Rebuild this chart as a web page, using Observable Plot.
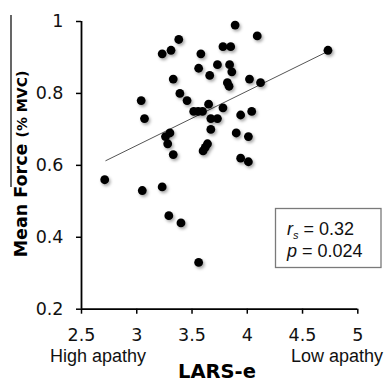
<!DOCTYPE html>
<html><head><meta charset="utf-8">
<script src="https://cdn.jsdelivr.net/npm/d3@7"></script>
<script src="https://cdn.jsdelivr.net/npm/@observablehq/plot@0.6"></script>
<style>html,body{margin:0;padding:0;background:#fff} svg{display:block}</style>
</head><body><div id="chart"></div>
<script>
// Data
const larsE = [3.38, 3.31, 3.23, 3.33, 3.39, 3.455, 3.04, 3.89, 4.09, 3.78, 3.85, 3.58, 3.73, 3.84, 3.56, 3.86, 3.66, 4.02, 4.12, 3.82, 3.835, 3.65, 3.78, 3.515, 3.555, 3.595, 4.04, 3.94, 3.67, 3.73, 3.67, 3.90, 4.01, 3.64, 3.62, 3.60, 3.94, 4.01, 3.07, 3.30, 3.26, 3.28, 3.33, 2.71, 3.05, 3.23, 3.29, 3.40, 3.56, 4.73];
const meanForce = [0.95, 0.92, 0.91, 0.84, 0.80, 0.78, 0.78, 0.99, 0.96, 0.93, 0.93, 0.91, 0.88, 0.88, 0.87, 0.86, 0.85, 0.84, 0.83, 0.83, 0.82, 0.77, 0.76, 0.75, 0.75, 0.75, 0.75, 0.74, 0.73, 0.73, 0.70, 0.69, 0.68, 0.66, 0.65, 0.64, 0.62, 0.61, 0.73, 0.69, 0.68, 0.66, 0.63, 0.56, 0.53, 0.54, 0.46, 0.44, 0.33, 0.92];
const trendX = [2.72, 4.73];
const trendY = [0.613, 0.917];
const xTicks = [2.5, 3, 3.5, 4, 4.5, 5];
const yTicks = [0.2, 0.4, 0.6, 0.8, 1];
const rsValue = "0.32";
const pValue = "0.024";
const xTitle = "LARS-e";
const yTitleMain = "Mean Force";
const yTitleUnit = "(% MVC)";
const leftNote = "High apathy";
const rightNote = "Low apathy";

const points = larsE.map((x, i) => ({x, y: meanForce[i]}));
const trend = trendX.map((x, i) => ({x, y: trendY[i]}));

const W = 388, H = 383;
const plot = Plot.plot({
  width: W, height: H,
  marginLeft: 81, marginRight: 30.7, marginTop: 21, marginBottom: 74.3,
  x: {domain: [2.5, 5]},
  y: {domain: [0.2, 1]},
  style: {fontFamily: "'DejaVu Sans', Verdana, sans-serif", color: "#000", background: "#fff", overflow: "visible"},
  marks: [
    Plot.axisX({ticks: xTicks, tickSize: 5, tickPadding: 14, tickFormat: d => String(d), label: null, stroke: "#000", strokeWidth: 1.5, fontSize: 17.5, fill: "#111"}),
    Plot.axisY({ticks: yTicks, tickSize: 5, tickPadding: 13, tickFormat: d => String(d), label: null, stroke: "#000", strokeWidth: 1.5, fontSize: 17.5, fill: "#111"}),
    Plot.ruleX([2.5], {stroke: "#000", strokeWidth: 1.8}),
    Plot.ruleY([0.2], {stroke: "#000", strokeWidth: 1.8}),
    Plot.line(trend, {x: "x", y: "y", stroke: "#555", strokeWidth: 1}),
    Plot.dot(points, {x: "x", y: "y", r: 4.4, fill: "#000", stroke: "none"})
  ]
});

const svg = d3.select(plot);
const FS = "'DejaVu Sans', Verdana, sans-serif";
const FL = "'Liberation Sans', Arial, sans-serif";
// drop shadow for dots
const defs = svg.insert("defs", ":first-child");
const f = defs.append("filter").attr("id", "shadow").attr("x", "-50%").attr("y", "-50%").attr("width", "200%").attr("height", "200%");
f.append("feDropShadow").attr("dx", 1.5).attr("dy", 2).attr("stdDeviation", 1.4).attr("flood-color", "#000").attr("flood-opacity", 0.35);
svg.selectAll("g[aria-label=dot]").attr("filter", "url(#shadow)");

// stray border line present in the reference
svg.append("line").attr("x1", 11).attr("x2", 11).attr("y1", 15).attr("y2", 187).attr("stroke", "#000").attr("stroke-width", 1.2);

// axis titles
svg.append("text").attr("x", 217).attr("y", 378).attr("text-anchor", "middle")
  .attr("font-family", FS).attr("font-weight", "bold").attr("font-size", 19.5).attr("fill", "#000").text(xTitle);
const yt = svg.append("text").attr("transform", "translate(27,164) rotate(-90)").attr("text-anchor", "middle")
  .attr("font-family", FS).attr("font-weight", "bold").attr("fill", "#000");
yt.append("tspan").attr("font-size", 17.5).text(yTitleMain + " ");
yt.append("tspan").attr("font-size", 14).text(yTitleUnit);

// apathy notes
svg.append("text").attr("x", 98).attr("y", 362).attr("text-anchor", "middle")
  .attr("font-family", FL).attr("font-size", 18).attr("fill", "#111").text(leftNote);
svg.append("text").attr("x", 383).attr("y", 362).attr("text-anchor", "end")
  .attr("font-family", FL).attr("font-size", 18).attr("fill", "#111").text(rightNote);

// stats box
svg.append("rect").attr("x", 275.5).attr("y", 208.5).attr("width", 105.5).attr("height", 59)
  .attr("fill", "#fff").attr("stroke", "#7a7a7a").attr("stroke-width", 1.3);
const t1 = svg.append("text").attr("x", 287).attr("y", 235).attr("text-anchor", "start")
  .attr("font-family", FL).attr("font-size", 18).attr("fill", "#111");
t1.append("tspan").attr("font-style", "italic").text("r");
t1.append("tspan").attr("font-style", "italic").attr("font-size", 11).attr("dy", 4).text("s");
t1.append("tspan").attr("dy", -4).text(" = " + rsValue);
const t2 = svg.append("text").attr("x", 287).attr("y", 257).attr("text-anchor", "start")
  .attr("font-family", FL).attr("font-size", 18).attr("fill", "#111");
t2.append("tspan").attr("font-style", "italic").text("p");
t2.append("tspan").text(" = " + pValue);

document.getElementById("chart").appendChild(plot);
</script>
</body></html>
